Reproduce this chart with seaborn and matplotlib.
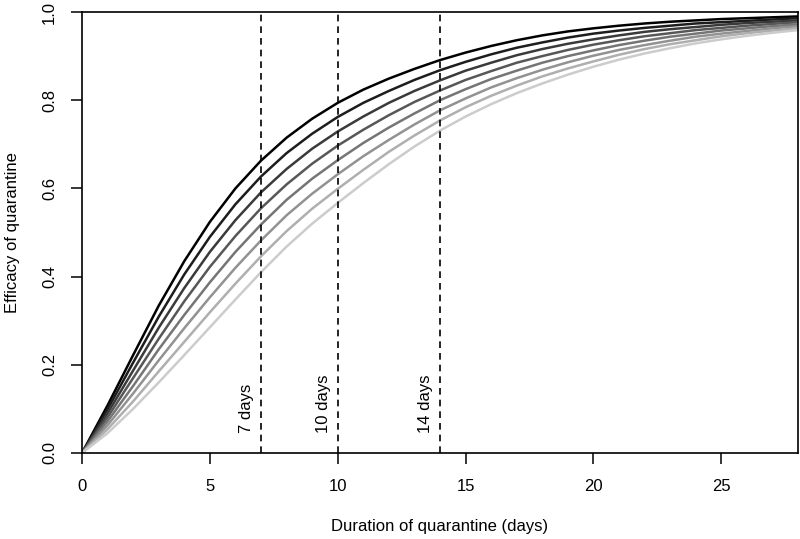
import seaborn as sns
import pandas as pd
import matplotlib.pyplot as plt

# day of quarantine at which each curve was read
days = list(range(0, 29))

# efficacy curves, darkest (1) to lightest (8)
curve1 = [0, 0.108, 0.222, 0.334, 0.435, 0.524, 0.600, 0.663, 0.715, 0.758, 0.794, 0.824, 0.849, 0.871, 0.891,
          0.908, 0.923, 0.936, 0.947, 0.956, 0.963, 0.969, 0.974, 0.978, 0.981, 0.984, 0.986, 0.988, 0.990]
curve2 = [0, 0.099, 0.205, 0.309, 0.405, 0.490, 0.564, 0.627, 0.680, 0.724, 0.762, 0.794, 0.821, 0.846, 0.868,
          0.887, 0.904, 0.919, 0.931, 0.942, 0.951, 0.958, 0.964, 0.969, 0.974, 0.977, 0.980, 0.983, 0.986]
curve3 = [0, 0.090, 0.187, 0.284, 0.374, 0.456, 0.528, 0.591, 0.644, 0.690, 0.729, 0.763, 0.794, 0.821, 0.845,
          0.867, 0.885, 0.902, 0.916, 0.928, 0.938, 0.947, 0.955, 0.961, 0.966, 0.971, 0.975, 0.978, 0.981]
curve4 = [0, 0.081, 0.170, 0.259, 0.344, 0.422, 0.492, 0.555, 0.609, 0.656, 0.697, 0.733, 0.766, 0.796, 0.822,
          0.846, 0.866, 0.885, 0.900, 0.914, 0.926, 0.936, 0.945, 0.952, 0.959, 0.964, 0.969, 0.973, 0.977]
curve5 = [0, 0.072, 0.152, 0.235, 0.313, 0.387, 0.456, 0.518, 0.574, 0.622, 0.664, 0.703, 0.738, 0.770, 0.800,
          0.825, 0.848, 0.867, 0.885, 0.900, 0.913, 0.925, 0.935, 0.944, 0.951, 0.958, 0.963, 0.968, 0.972]
curve6 = [0, 0.063, 0.135, 0.210, 0.283, 0.353, 0.420, 0.482, 0.539, 0.588, 0.632, 0.673, 0.710, 0.745, 0.777,
          0.804, 0.829, 0.850, 0.869, 0.886, 0.901, 0.914, 0.925, 0.935, 0.944, 0.951, 0.957, 0.963, 0.968]
curve7 = [0, 0.054, 0.117, 0.185, 0.252, 0.319, 0.384, 0.446, 0.503, 0.554, 0.599, 0.642, 0.683, 0.720, 0.754,
          0.784, 0.810, 0.833, 0.854, 0.872, 0.888, 0.903, 0.916, 0.927, 0.936, 0.945, 0.952, 0.958, 0.963]
curve8 = [0, 0.045, 0.100, 0.160, 0.222, 0.285, 0.348, 0.410, 0.468, 0.520, 0.567, 0.612, 0.655, 0.695, 0.731,
          0.763, 0.791, 0.816, 0.838, 0.858, 0.876, 0.892, 0.906, 0.918, 0.929, 0.938, 0.946, 0.953, 0.959]

durations = [7, 10, 14]
duration_labels = ["7 days", "10 days", "14 days"]

curves = [curve1, curve2, curve3, curve4, curve5, curve6, curve7, curve8]
rows = []
for i, c in enumerate(curves):
    for d, v in zip(days, c):
        rows.append({"day": d, "efficacy": v, "curve": i})
df = pd.DataFrame(rows)

greys = ["#000000", "#1d1d1d", "#3a3a3a", "#575757", "#757575", "#929292", "#afafaf", "#cccccc"]

sns.set_style("ticks")
plt.rcParams["font.family"] = ["Liberation Sans", "DejaVu Sans"]
plt.rcParams["text.color"] = "black"
plt.rcParams["axes.labelcolor"] = "black"
plt.rcParams["xtick.color"] = "black"
plt.rcParams["ytick.color"] = "black"

fig = plt.figure(figsize=(8, 5.39), dpi=100)
ax = fig.add_axes([0.1025, 0.1596, 0.895, 0.8181])

sns.lineplot(data=df, x="day", y="efficacy", hue="curve", palette=greys,
             linewidth=1.8, legend=False, ax=ax)

for d, lab in zip(durations, duration_labels):
    ax.axvline(d, color="black", linestyle=(0, (4, 3)), linewidth=1.2)
    ax.annotate(lab, xy=(d, 0.045), xytext=(-5, 0), textcoords="offset points",
                rotation=90, ha="right", va="bottom", fontsize=12, color="black")

ax.set_xlim(0, 28)
ax.set_ylim(0, 1)
ax.set_xticks([0, 5, 10, 15, 20, 25])
ax.set_yticks([0, 0.2, 0.4, 0.6, 0.8, 1.0])
ax.set_yticklabels(["0.0", "0.2", "0.4", "0.6", "0.8", "1.0"], rotation=90, va="center")
ax.tick_params(axis="both", direction="out", length=8, width=1.1, labelsize=12,
               color="black", labelcolor="black")
ax.tick_params(axis="x", pad=11)
ax.tick_params(axis="y", pad=10)
for s in ax.spines.values():
    s.set_visible(True)
    s.set_linewidth(1.2)
    s.set_color("black")

ax.set_xlabel("Duration of quarantine (days)", fontsize=12, labelpad=18, color="black")
ax.set_ylabel("Efficacy of quarantine", fontsize=12, labelpad=16, color="black")

plt.savefig("out.png", dpi=100)
